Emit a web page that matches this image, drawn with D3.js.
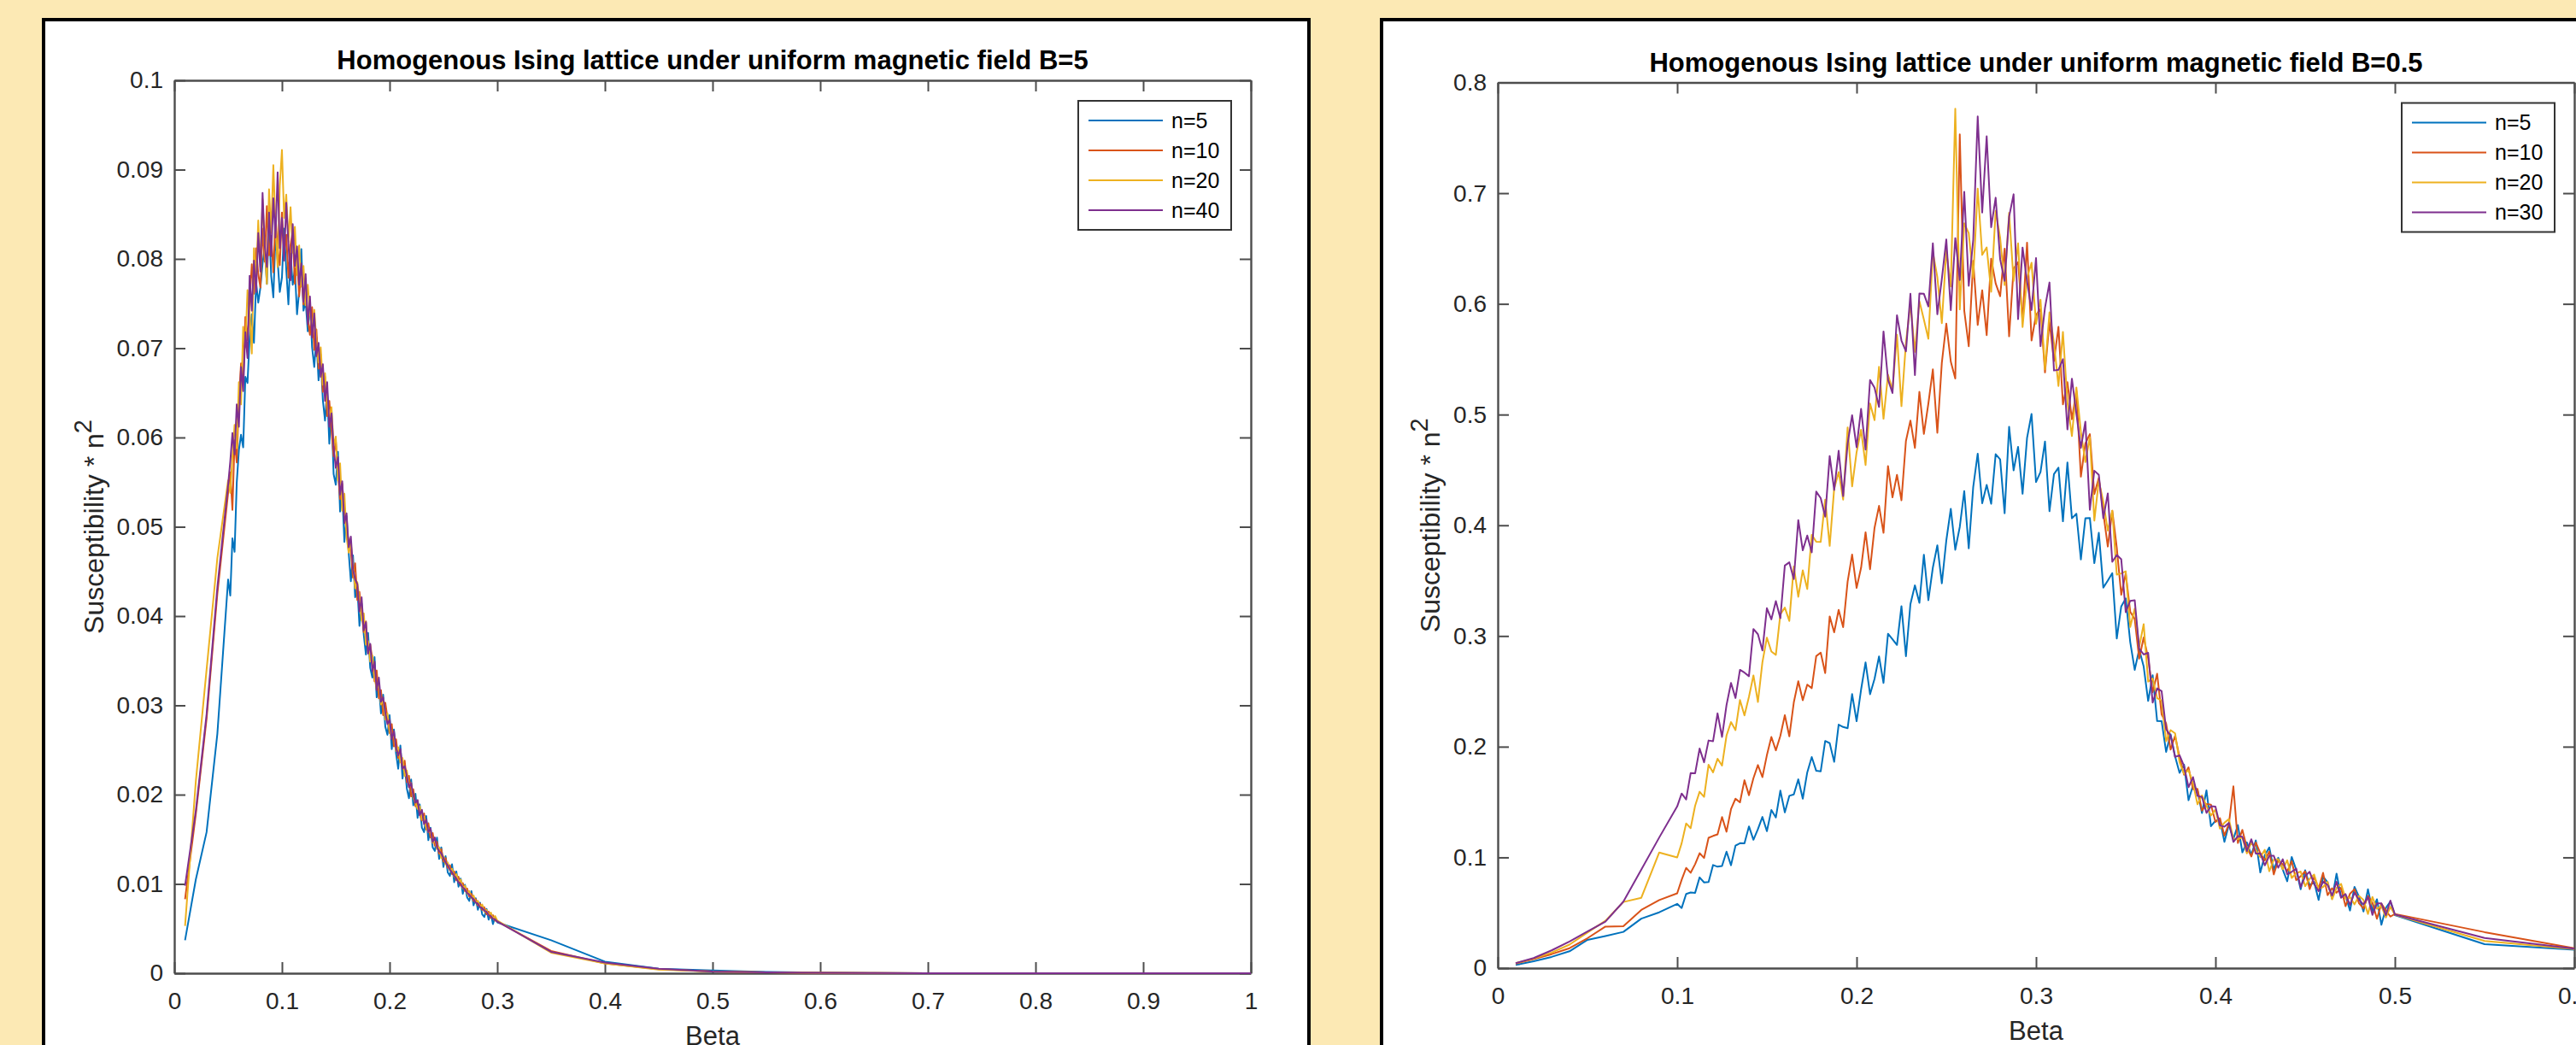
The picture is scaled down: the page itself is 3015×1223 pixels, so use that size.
<!DOCTYPE html>
<html>
<head>
<meta charset="utf-8">
<script src="https://cdn.jsdelivr.net/npm/d3@7"></script>
<style>
  html, body { margin: 0; padding: 0; background: #FCE9B4; }
  svg { display: block; }
</style>
</head>
<body>
<svg id="fig" width="3015" height="1223"></svg>
<script>
// ---------- series names and colours ----------
const labelsB5  = ["n=5", "n=10", "n=20", "n=40"];
const labelsB05 = ["n=5", "n=10", "n=20", "n=30"];
const lineColors = ["#0072BD", "#D95319", "#EDB120", "#7E2F8E"];

// ---------- B = 5 : beta grid ----------
const betaHeadB5 = [0.01, 0.02, 0.03, 0.04];
const betaDenseB5 = d3.range(126).map(i => +(0.05 + 0.002 * i).toFixed(3));   // 0.050 … 0.300
const betaTailB5 = [0.35, 0.40, 0.45, 0.50, 0.55, 0.60, 0.65, 0.70, 0.75, 0.80, 0.85, 0.90, 0.95, 1.00];
const betaB5 = betaHeadB5.concat(betaDenseB5, betaTailB5);

// susceptibility * n^2, B = 5
const chiB5_n5 = [
  .0037,.0105,.0158,.0268,
  .0441,.0423,.0487,.0472,.0549,.0586,.0603,.0589,.0668,.0661,
  .0712,.0738,.0706,.0774,.0751,.0768,.0795,.0812,.0772,.0843,
  .0781,.0757,.0826,.0798,.0763,.0779,.0834,.0788,.0749,.0806,
  .0771,.0789,.0738,.0764,.0811,.0742,.0753,.0719,.0752,.0701,
  .0679,.0712,.0664,.0689,.0642,.0619,.0652,.0593,.0631,.0559,
  .0547,.0584,.0517,.0539,.0483,.0512,.0471,.0439,.0468,.0421,
  .0433,.0389,.0414,.0379,.0357,.0381,.0342,.0331,.0354,.0309,
  .0322,.0291,.0312,.0276,.0267,.0289,.0251,.0273,.0246,.0229,
  .0255,.0218,.0234,.0207,.0196,.0217,.0188,.0201,.0174,.0189,
  .0163,.0158,.0176,.0149,.0163,.0141,.0137,.0152,.0128,.0141,
  .0119,.0131,.0113,.0109,.0122,.0102,.0114,.0097,.0106,.0089,
  .0099,.0085,.0081,.0092,.0076,.0084,.0071,.0079,.0066,.0063,
  .0072,.0060,.0067,.0055,.0063,.0057,
  .0037,.0013,.0005,.0003,.00015,.00007,.00003,.00001,0,0,0,0,0,0
];
const chiB5_n10 = [
  .0083,.0178,.0285,.0425,
  .0538,.0561,.0519,.0597,.0572,.0641,.0683,.0662,.0735,.0709,
  .0752,.0794,.0761,.0812,.0783,.0768,.0834,.0797,.0859,.0804,
  .0826,.0785,.0848,.0811,.0793,.0852,.0806,.0827,.0779,.0816,
  .0831,.0772,.0803,.0758,.0787,.0749,.0778,.0733,.0715,.0746,
  .0698,.0721,.0677,.0693,.0651,.0668,.0624,.0641,.0608,.0579,
  .0596,.0562,.0531,.0548,.0512,.0497,.0484,.0472,.0443,.0459,
  .0418,.0427,.0405,.0382,.0394,.0359,.0368,.0351,.0327,.0339,
  .0308,.0317,.0289,.0303,.0286,.0269,.0279,.0254,.0262,.0241,
  .0247,.0229,.0238,.0214,.0221,.0198,.0206,.0187,.0193,.0178,
  .0171,.0179,.0161,.0168,.0152,.0157,.0143,.0147,.0134,.0139,
  .0125,.0129,.0118,.0121,.0111,.0114,.0104,.0108,.0098,.0101,
  .0092,.0095,.0086,.0089,.0081,.0083,.0076,.0078,.0071,.0074,
  .0066,.0069,.0062,.0065,.0059,.0058,
  .0025,.0011,.00045,.0002,.0001,.00005,.00002,.00001,0,0,0,0,0,0
];
const chiB5_n20 = [
  .0053,.0215,.0340,.0465,
  .0552,.0538,.0579,.0614,.0588,.0662,.0637,.0724,.0701,.0765,
  .0738,.0694,.0812,.0776,.0843,.0791,.0867,.0812,.0772,.0878,
  .0829,.0905,.0838,.0791,.0882,.0922,.0846,.0872,.0819,.0858,
  .0807,.0836,.0782,.0815,.0769,.0792,.0748,.0771,.0739,.0722,
  .0743,.0708,.0684,.0701,.0659,.0672,.0638,.0619,.0634,.0591,
  .0601,.0552,.0571,.0518,.0537,.0489,.0471,.0482,.0456,.0431,
  .0438,.0419,.0395,.0403,.0368,.0372,.0349,.0356,.0331,.0318,
  .0324,.0301,.0306,.0284,.0291,.0272,.0263,.0268,.0249,.0253,
  .0236,.0241,.0221,.0227,.0209,.0213,.0196,.0191,.0184,.0187,
  .0172,.0175,.0163,.0158,.0159,.0146,.0149,.0139,.0141,.0129,
  .0131,.0122,.0124,.0115,.0117,.0108,.0111,.0102,.0105,.0095,
  .0098,.0089,.0092,.0084,.0087,.0079,.0081,.0074,.0077,.0069,
  .0071,.0065,.0068,.0061,.0064,.0059,
  .0023,.0011,.0004,.0002,.0001,.00005,.00002,.00001,0,0,0,0,0,0
];
const chiB5_n40 = [
  .0098,.0182,.0290,.0432,
  .0547,.0573,.0605,.0581,.0637,.0612,.0679,.0652,.0718,.0689,
  .0781,.0742,.0798,.0763,.0829,.0786,.0874,.0815,.0791,.0852,
  .0803,.0868,.0824,.0897,.0812,.0846,.0798,.0863,.0817,.0776,
  .0839,.0792,.0814,.0771,.0795,.0752,.0783,.0727,.0758,.0712,
  .0739,.0691,.0706,.0668,.0682,.0641,.0662,.0612,.0627,.0589,
  .0566,.0578,.0536,.0551,.0504,.0515,.0477,.0489,.0452,.0441,
  .0436,.0405,.0421,.0384,.0393,.0358,.0369,.0338,.0349,.0317,
  .0331,.0304,.0309,.0292,.0279,.0284,.0262,.0271,.0252,.0244,
  .0251,.0229,.0232,.0221,.0208,.0213,.0199,.0191,.0194,.0177,
  .0183,.0167,.0172,.0158,.0162,.0147,.0152,.0141,.0137,.0134,
  .0129,.0124,.0121,.0116,.0113,.0109,.0106,.0102,.0100,.0096,
  .0094,.0090,.0088,.0085,.0083,.0079,.0078,.0074,.0073,.0070,
  .0069,.0065,.0064,.0061,.0060,.0058,
  .0024,.0012,.0005,.0002,.0001,.00005,.00002,.00001,0,0,0,0,0,0
];

// ---------- B = 0.5 : beta grid ----------
const betaHeadB05 = [0.01, 0.02, 0.03, 0.04, 0.05, 0.06, 0.07, 0.08, 0.09];
const betaDenseB05 = d3.range(161).map(i => +(0.1 + 0.0025 * i).toFixed(4));  // 0.1000 … 0.5000
const betaTailB05 = [0.55, 0.60];
const betaB05 = betaHeadB05.concat(betaDenseB05, betaTailB05);

// susceptibility * n^2, B = 0.5
const chiB05_n5 = [
  .0028,.0062,.0101,.0152,.0255,.0290,.0327,.0447,.0504,
  .0580,.0543,.0670,.0683,.0680,.0819,.0774,.0778,.0931,.0916,
  .0923,.1052,.0929,.1106,.1128,.1127,.1280,.1159,.1255,.1365,
  .1237,.1428,.1361,.1603,.1407,.1556,.1569,.1705,.1530,.1768,
  .1906,.1782,.1778,.2052,.2032,.1863,.2199,.2178,.2167,.2475,
  .2230,.2516,.2761,.2474,.2613,.2815,.2576,.3020,.2971,.2919,
  .3269,.2818,.3288,.3457,.3299,.3734,.3323,.3618,.3819,.3476,
  .3863,.4149,.3779,.3985,.4309,.3792,.4347,.4647,.4199,.4365,
  .4194,.4642,.4595,.4109,.4890,.4496,.4708,.4285,.4789,.5005,
  .4391,.4481,.4757,.4127,.4462,.4520,.4036,.4567,.4063,.4104,
  .3692,.4063,.4066,.3658,.3932,.3437,.3500,.3567,.2977,.3267,
  .3339,.2946,.2694,.2879,.2724,.2413,.2646,.2232,.2231,.1953,
  .2112,.1913,.1764,.1838,.1516,.1650,.1604,.1401,.1605,.1282,
  .1330,.1343,.1140,.1297,.1166,.1292,.1046,.1136,.1022,.1153,
  .0864,.1019,.1090,.0888,.0997,.0891,.0784,.1004,.0888,.0712,
  .0884,.0747,.0777,.0616,.0826,.0775,.0628,.0853,.0646,.0655,
  .0520,.0733,.0646,.0511,.0712,.0517,.0622,.0391,.0544,.0601,
  .0478,
  .0216,.0165
];
const chiB05_n10 = [
  .0040,.0081,.0126,.0180,.0270,.0375,.0378,.0525,.0615,
  .0675,.0798,.0905,.0861,.0939,.1038,.0995,.1177,.1194,.1208,
  .1365,.1232,.1436,.1530,.1497,.1697,.1562,.1715,.1834,.1725,
  .1923,.2088,.1967,.2097,.2285,.2093,.2400,.2592,.2420,.2560,
  .2529,.2818,.2850,.2665,.3177,.3033,.3236,.3080,.3491,.3735,
  .3434,.3616,.3937,.3603,.3977,.4175,.3932,.4535,.4252,.4455,
  .4226,.4762,.4946,.4699,.5205,.4825,.5100,.5408,.4836,.5467,
  .5821,.5478,.5326,.7531,.5939,.5617,.6388,.5809,.6123,.5718,
  .6409,.6185,.6069,.6498,.5707,.6319,.6377,.5847,.6552,.5669,
  .5900,.5953,.5381,.5841,.5483,.5792,.5092,.5292,.4958,.5215,
  .4439,.4739,.4823,.4281,.4429,.4113,.3808,.4132,.3799,.3372,
  .3564,.3219,.3154,.2795,.2987,.2800,.2492,.2659,.2292,.2210,
  .1974,.2097,.1904,.1747,.1813,.1616,.1618,.1422,.1481,.1477,
  .1320,.1355,.1197,.1304,.1642,.1130,.1249,.1089,.1008,.1135,
  .1038,.0973,.1052,.0846,.0975,.0937,.0874,.0966,.0794,.0830,
  .0874,.0713,.0823,.0718,.0860,.0659,.0721,.0680,.0726,.0559,
  .0672,.0713,.0586,.0539,.0652,.0589,.0446,.0583,.0520,.0465,
  .0489,
  .0325,.0180
];
const chiB05_n20 = [
  .0045,.0086,.0140,.0212,.0321,.0427,.0597,.0635,.1044,
  .0999,.1128,.1307,.1264,.1467,.1593,.1547,.1837,.1768,.1891,
  .1830,.2101,.2222,.2150,.2422,.2283,.2450,.2644,.2404,.2762,
  .2985,.2860,.2829,.3196,.3256,.3136,.3628,.3354,.3593,.3424,
  .3914,.3851,.3850,.4232,.3814,.4331,.4481,.4232,.4884,.4351,
  .4660,.4862,.4545,.5100,.4950,.5432,.4962,.5360,.5222,.5721,
  .5076,.5650,.6000,.5566,.6024,.5858,.5684,.6467,.6241,.5826,
  .6481,.6157,.7762,.5950,.6728,.6639,.6237,.7041,.6442,.6510,
  .6110,.6840,.6597,.6170,.6822,.6207,.6547,.5791,.6234,.6372,
  .5820,.6037,.5408,.5924,.5647,.5259,.5746,.5111,.4806,.5245,
  .4844,.4571,.4796,.4042,.4404,.4212,.3952,.4132,.3554,.3565,
  .3584,.3081,.3248,.2903,.3107,.2588,.2616,.2438,.2417,.2050,
  .2150,.2121,.1859,.1754,.1788,.1669,.1479,.1560,.1465,.1378,
  .1430,.1260,.1313,.1346,.1168,.1164,.1180,.1036,.1136,.1069,
  .1002,.1068,.0875,.0979,.0984,.0892,.0974,.0814,.0857,.0872,
  .0740,.0807,.0845,.0716,.0733,.0779,.0621,.0723,.0761,.0627,
  .0640,.0576,.0652,.0616,.0489,.0642,.0536,.0563,.0457,.0554,
  .0482,
  .0245,.0172
];
const chiB05_n30 = [
  .0045,.0091,.0160,.0240,.0330,.0420,.0600,.0890,.1180,
  .1460,.1577,.1523,.1761,.1759,.1983,.1859,.2056,.2050,.2301,
  .2088,.2376,.2576,.2440,.2694,.2669,.2637,.3063,.3016,.2869,
  .3251,.3150,.3315,.3160,.3636,.3665,.3514,.4047,.3774,.3908,
  .3755,.4304,.4245,.4077,.4626,.4319,.4673,.4264,.4736,.4994,
  .4705,.5051,.4684,.5312,.5242,.5069,.5751,.5316,.5194,.5897,
  .5669,.5571,.6092,.5357,.6093,.6091,.5977,.6547,.5906,.6223,
  .6582,.5944,.6594,.6216,.7012,.6164,.6578,.7693,.6825,.7514,
  .6692,.6959,.6403,.6208,.6787,.6990,.5863,.6509,.6205,.5944,
  .6413,.5618,.5965,.6193,.5398,.5404,.5500,.4866,.5324,.5007,
  .4699,.4936,.4140,.4493,.4455,.4064,.4288,.3670,.3732,.3693,
  .3215,.3317,.3323,.2885,.2833,.2848,.2399,.2527,.2501,.2157,
  .2100,.1907,.1922,.1824,.1634,.1725,.1556,.1546,.1402,.1462,
  .1458,.1288,.1278,.1311,.1140,.1192,.1187,.1057,.1164,.1034,
  .1037,.0928,.1015,.1014,.0907,.0983,.0848,.0870,.0899,.0732,
  .0831,.0870,.0761,.0695,.0782,.0751,.0656,.0779,.0635,.0669,
  .0570,.0681,.0617,.0574,.0643,.0481,.0585,.0584,.0478,.0610,
  .0485,
  .0272,.0175
];

// ---------- axis ticks ----------
const xTicksB5 = [0, 0.1, 0.2, 0.3, 0.4, 0.5, 0.6, 0.7, 0.8, 0.9, 1];
const xTickLabelsB5 = ["0", "0.1", "0.2", "0.3", "0.4", "0.5", "0.6", "0.7", "0.8", "0.9", "1"];
const yTicksB5 = [0, 0.01, 0.02, 0.03, 0.04, 0.05, 0.06, 0.07, 0.08, 0.09, 0.1];
const yTickLabelsB5 = ["0", "0.01", "0.02", "0.03", "0.04", "0.05", "0.06", "0.07", "0.08", "0.09", "0.1"];
const xTicksB05 = [0, 0.1, 0.2, 0.3, 0.4, 0.5, 0.6];
const xTickLabelsB05 = ["0", "0.1", "0.2", "0.3", "0.4", "0.5", "0.6"];
const yTicksB05 = [0, 0.1, 0.2, 0.3, 0.4, 0.5, 0.6, 0.7, 0.8];
const yTickLabelsB05 = ["0", "0.1", "0.2", "0.3", "0.4", "0.5", "0.6", "0.7", "0.8"];

// ---------- drawing ----------
const svg = d3.select("#fig");
const FONT = "'Liberation Sans', Arial, Helvetica, sans-serif";
const AXIS_COLOR = "#4d4d4d";
const TEXT_COLOR = "#262626";

function drawPanel(p, idx) {
  const g = svg.append("g").attr("font-family", FONT);

  // white figure card with black border
  g.append("rect")
    .attr("x", p.frame.x).attr("y", p.frame.y)
    .attr("width", p.frame.w).attr("height", p.frame.h)
    .attr("fill", "#ffffff").attr("stroke", "#000").attr("stroke-width", 4);

  const x = d3.scaleLinear().domain(p.xDomain).range([p.left, p.right]);
  const y = d3.scaleLinear().domain(p.yDomain).range([p.bottom, p.top]);

  const styleAxis = a => {
    a.attr("font-family", FONT).attr("font-size", 28).attr("color", TEXT_COLOR);
    a.select(".domain").attr("stroke", AXIS_COLOR).attr("stroke-width", 2.4);
    a.selectAll(".tick line").attr("stroke", AXIS_COLOR).attr("stroke-width", 2);
  };

  g.append("g").attr("transform", `translate(0,${p.bottom})`)
    .call(d3.axisBottom(x).tickValues(p.xTicks).tickFormat((d, i) => p.xTickLabels[i])
      .tickSizeInner(-13).tickSizeOuter(0).tickPadding(22))
    .call(styleAxis);
  g.append("g").attr("transform", `translate(0,${p.top})`)
    .call(d3.axisTop(x).tickValues(p.xTicks).tickFormat("").tickSizeInner(-13).tickSizeOuter(0))
    .call(styleAxis);
  g.append("g").attr("transform", `translate(${p.left},0)`)
    .call(d3.axisLeft(y).tickValues(p.yTicks).tickFormat((d, i) => p.yTickLabels[i])
      .tickSizeInner(-13).tickSizeOuter(0).tickPadding(13))
    .call(styleAxis);
  g.append("g").attr("transform", `translate(${p.right},0)`)
    .call(d3.axisRight(y).tickValues(p.yTicks).tickFormat("").tickSizeInner(-13).tickSizeOuter(0))
    .call(styleAxis);

  // data lines
  const clipId = "plotclip" + idx;
  g.append("clipPath").attr("id", clipId).append("rect")
    .attr("x", p.left - 2).attr("y", p.top - 2)
    .attr("width", p.right - p.left + 4).attr("height", p.bottom - p.top + 4);
  const line = d3.line().x(d => x(d[0])).y(d => y(d[1]));
  const lines = g.append("g").attr("clip-path", `url(#${clipId})`);
  p.series.forEach((vals, i) => {
    lines.append("path")
      .datum(p.beta.map((b, j) => [b, vals[j]]))
      .attr("d", line)
      .attr("fill", "none")
      .attr("stroke", lineColors[i])
      .attr("stroke-width", 2)
      .attr("stroke-linejoin", "round");
  });

  // title
  g.append("text")
    .attr("x", (p.left + p.right) / 2).attr("y", p.top - 13)
    .attr("text-anchor", "middle").attr("font-weight", "bold")
    .attr("font-size", 31).attr("fill", "#000")
    .text(p.title);

  // x label
  g.append("text")
    .attr("x", (p.left + p.right) / 2).attr("y", p.bottom + 84)
    .attr("text-anchor", "middle").attr("font-size", 31).attr("fill", TEXT_COLOR)
    .text("Beta");

  // y label with superscript
  const yl = g.append("text")
    .attr("transform", `translate(${p.ylabelX},${(p.top + p.bottom) / 2}) rotate(-90)`)
    .attr("text-anchor", "middle").attr("font-size", 32).attr("fill", TEXT_COLOR);
  yl.append("tspan").text("Susceptibility * n");
  yl.append("tspan").attr("dy", -14).attr("font-size", 29).text("2");

  // legend
  const lw = 179, lh = 151;
  const lg = g.append("g").attr("transform", `translate(${p.right - 23 - lw},${p.top + 24})`);
  lg.append("rect").attr("width", lw).attr("height", lh)
    .attr("fill", "#fff").attr("stroke", "#333").attr("stroke-width", 2);
  p.labels.forEach((lab, i) => {
    const yy = 23 + i * 35;
    lg.append("line").attr("x1", 12).attr("x2", 99).attr("y1", yy).attr("y2", yy)
      .attr("stroke", lineColors[i]).attr("stroke-width", 2);
    lg.append("text").attr("x", 109).attr("y", yy).attr("dy", "0.35em")
      .attr("font-size", 25).attr("fill", "#000").text(lab);
  });
}

drawPanel({
  frame: { x: 51, y: 23, w: 1481, h: 1300 },
  left: 204, right: 1464, top: 94, bottom: 1139,
  xDomain: [0, 1], yDomain: [0, 0.1],
  xTicks: xTicksB5, xTickLabels: xTickLabelsB5,
  yTicks: yTicksB5, yTickLabels: yTickLabelsB5,
  beta: betaB5,
  series: [chiB5_n5, chiB5_n10, chiB5_n20, chiB5_n40],
  labels: labelsB5,
  title: "Homogenous Ising lattice under uniform magnetic field B=5",
  ylabelX: 121
}, 0);

drawPanel({
  frame: { x: 1617, y: 23, w: 1500, h: 1300 },
  left: 1753, right: 3013, top: 96.5, bottom: 1133,
  xDomain: [0, 0.6], yDomain: [0, 0.8],
  xTicks: xTicksB05, xTickLabels: xTickLabelsB05,
  yTicks: yTicksB05, yTickLabels: yTickLabelsB05,
  beta: betaB05,
  series: [chiB05_n5, chiB05_n10, chiB05_n20, chiB05_n30],
  labels: labelsB05,
  title: "Homogenous Ising lattice under uniform magnetic field B=0.5",
  ylabelX: 1685
}, 1);
</script>
</body>
</html>
